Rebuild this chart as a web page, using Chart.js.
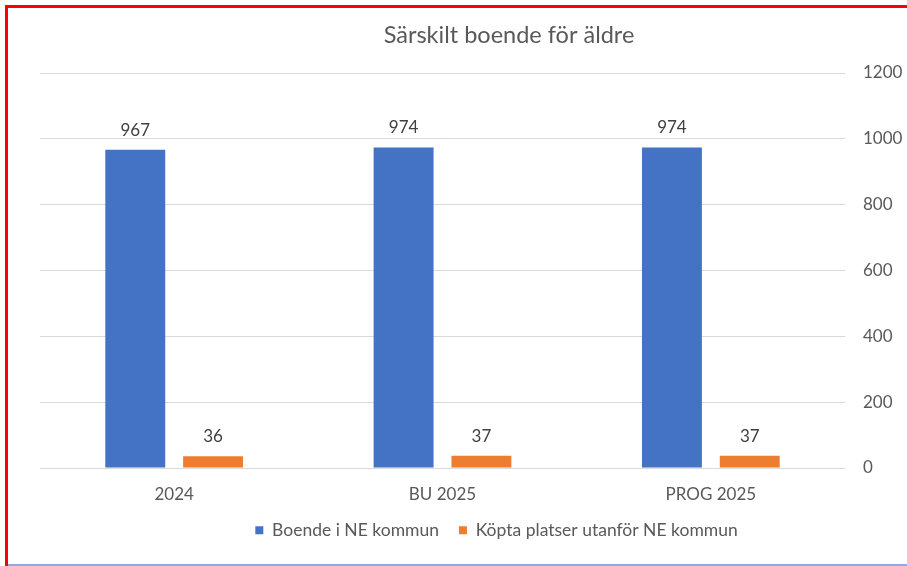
<!DOCTYPE html>
<html>
<head>
<meta charset="utf-8">
<script src="https://cdn.jsdelivr.net/npm/chart.js@4"></script>
<style>
  html, body { margin: 0; padding: 0; background: #fff; }
  #wrap { position: relative; width: 907px; height: 566px; overflow: hidden; }
  canvas { position: absolute; left: 0; top: 0; }
  .redTop { position: absolute; left: 5px; top: 5px; width: 902px; height: 3px; background: #ff0000; }
  .redLeft { position: absolute; left: 5px; top: 5px; width: 3px; height: 561px; background: #ff0000; }
  .blueBottom { position: absolute; left: 8px; top: 564px; width: 899px; height: 2px; background: #8faadc; }
</style>
</head>
<body>
<div id="wrap">
  <canvas id="c" width="907" height="566"></canvas>
  <div class="redTop"></div>
  <div class="redLeft"></div>
  <div class="blueBottom"></div>
</div>
<script>
const chartTitle = "Särskilt boende för äldre";
const categories = ["2024", "BU 2025", "PROG 2025"];
const seriesNames = ["Boende i NE kommun", "Köpta platser utanför NE kommun"];
const boendeValues = [967, 974, 974];
const kopttaValues = [36, 37, 37];
const yTicks = [0, 200, 400, 600, 800, 1000, 1200];

const FONT = "Lato, 'Liberation Sans', sans-serif";

const titlePlugin = {
  id: 'customTitle',
  afterDraw(chart) {
    const ctx = chart.ctx;
    ctx.save();
    ctx.font = "23.5px " + FONT;
    ctx.fillStyle = "#595959";
    ctx.textAlign = "center";
    ctx.textBaseline = "alphabetic";
    ctx.fillText(chartTitle, 509, 43);
    ctx.restore();
  }
};

const legendShiftPlugin = {
  id: 'legendShift',
  afterLayout(chart) {
    if (chart.legend) {
      chart.legend.left += 23;
      chart.legend.right += 23;
    }
  }
};

const dataLabelPlugin = {
  id: 'dataLabels',
  afterDatasetsDraw(chart) {
    const ctx = chart.ctx;
    ctx.save();
    ctx.font = "17px " + FONT;
    ctx.fillStyle = "#404040";
    ctx.textAlign = "center";
    ctx.textBaseline = "alphabetic";
    chart.data.datasets.forEach((ds, i) => {
      const meta = chart.getDatasetMeta(i);
      meta.data.forEach((bar, j) => {
        ctx.fillText(String(ds.data[j]), bar.x, bar.y - 14);
      });
    });
    ctx.restore();
  }
};

new Chart(document.getElementById('c'), {
  type: 'bar',
  data: {
    labels: categories,
    datasets: [
      { label: seriesNames[0], data: boendeValues, backgroundColor: '#4472C4', categoryPercentage: 0.58, barPercentage: 0.77 },
      { label: seriesNames[1], data: kopttaValues, backgroundColor: '#ED7D31', categoryPercentage: 0.58, barPercentage: 0.77 }
    ]
  },
  options: {
    responsive: false,
    animation: false,
    devicePixelRatio: 1,
    layout: { padding: { left: 40, right: 0, top: 73, bottom: 17 } },
    plugins: {
      title: { display: false },
      legend: {
        position: 'bottom',
        labels: {
          color: '#595959', boxWidth: 8, boxHeight: 8, padding: 20,
          font: { family: FONT, size: 17.5 }
        }
      },
      tooltip: { enabled: false }
    },
    scales: {
      x: {
        grid: { display: false, drawTicks: false },
        border: { display: false },
        afterFit(scale) { scale.height = 33.5; },
        ticks: { color: '#595959', font: { family: FONT, size: 17 }, padding: 16 }
      },
      y: {
        position: 'right',
        min: yTicks[0], max: yTicks[yTicks.length - 1],
        afterBuildTicks(scale) { scale.ticks = yTicks.map(v => ({ value: v })); },
        afterFit(scale) { scale.width = 62; },
        grid: { color: '#d9d9d9', drawTicks: false, lineWidth: 1 },
        border: { display: false },
        ticks: { color: '#595959', font: { family: FONT, size: 17 }, padding: 18, callback: (v) => String(v) }
      }
    }
  },
  plugins: [dataLabelPlugin, titlePlugin, legendShiftPlugin]
});
</script>
</body>
</html>
